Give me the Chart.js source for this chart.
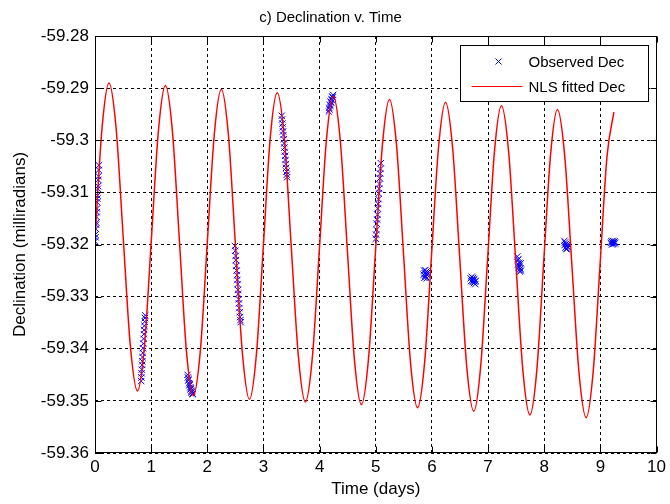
<!DOCTYPE html>
<html>
<head>
<meta charset="utf-8">
<script src="https://cdn.jsdelivr.net/npm/chart.js@4/dist/chart.umd.min.js"></script>
<style>
  html, body { margin: 0; padding: 0; background: #ffffff; }
  #wrap { width: 670px; height: 504px; }
</style>
</head>
<body>
<div id="wrap"><canvas id="c" width="670" height="504"></canvas></div>
<script>
// Observed declination, one block per night of observations (days, milliradians)
const obsDays = [
  // night 1
  0.002, 0.006, 0.010, 0.014, 0.018, 0.022, 0.026, 0.030, 0.034, 0.038, 0.042, 0.046, 0.050, 0.054, 0.058, 0.062, 0.066, 0.070,
  // night 2
  0.822, 0.826, 0.830, 0.834, 0.838, 0.842, 0.846, 0.850, 0.855, 0.860, 0.865, 0.870, 0.875, 0.880, 0.885, 0.890, 0.895,
  // night 3
  1.648, 1.655, 1.662, 1.668, 1.675, 1.682, 1.688, 1.695, 1.702, 1.708, 1.715, 1.722, 1.728, 1.735, 1.742,
  // night 4
  2.492, 2.498, 2.504, 2.510, 2.516, 2.522, 2.528, 2.534, 2.540, 2.546, 2.552, 2.558, 2.564, 2.570, 2.576, 2.582, 2.588, 2.594,
  // night 5
  3.325, 3.331, 3.337, 3.343, 3.349, 3.355, 3.361, 3.367, 3.373, 3.379, 3.385, 3.391, 3.397, 3.403, 3.409, 3.415, 3.420,
  // night 6
  4.165, 4.172, 4.178, 4.185, 4.192, 4.198, 4.205, 4.212, 4.218, 4.225, 4.232, 4.240,
  // night 7
  5.000, 5.006, 5.012, 5.018, 5.024, 5.030, 5.036, 5.042, 5.048, 5.054, 5.060, 5.066, 5.072, 5.078, 5.084, 5.090,
  // night 8
  5.852, 5.860, 5.866, 5.872, 5.878, 5.884, 5.890, 5.896, 5.902, 5.908, 5.914, 5.920,
  // night 9
  6.690, 6.700, 6.708, 6.716, 6.724, 6.732, 6.740, 6.748, 6.756, 6.764, 6.772, 6.780,
  // night 10
  7.520, 7.528, 7.532, 7.540, 7.545, 7.550, 7.556, 7.562, 7.568, 7.575, 7.580, 7.588,
  // night 11
  8.358, 8.365, 8.372, 8.378, 8.385, 8.392, 8.398, 8.405, 8.412, 8.420,
  // night 12
  9.185, 9.195, 9.205, 9.212, 9.220, 9.228, 9.236, 9.245, 9.255, 9.265
];
const obsDec = [
  -59.3194, -59.3181, -59.3186, -59.3170, -59.3162, -59.3158, -59.3147, -59.3138, -59.3131, -59.3119, -59.3112, -59.3106, -59.3093, -59.3088, -59.3076, -59.3069, -59.3057, -59.3048,
  -59.3462, -59.3455, -59.3447, -59.3440, -59.3431, -59.3424, -59.3416, -59.3408, -59.3399, -59.3390, -59.3381, -59.3372, -59.3364, -59.3356, -59.3348, -59.3341, -59.3336,
  -59.3450, -59.3455, -59.3461, -59.3458, -59.3466, -59.3470, -59.3468, -59.3474, -59.3478, -59.3476, -59.3481, -59.3484, -59.3482, -59.3486, -59.3487,
  -59.3203, -59.3212, -59.3222, -59.3230, -59.3241, -59.3250, -59.3259, -59.3268, -59.3276, -59.3287, -59.3295, -59.3305, -59.3313, -59.3322, -59.3330, -59.3339, -59.3345, -59.3349,
  -59.2953, -59.2960, -59.2968, -59.2975, -59.2983, -59.2990, -59.2998, -59.3006, -59.3014, -59.3022, -59.3030, -59.3038, -59.3046, -59.3053, -59.3060, -59.3066, -59.3071,
  -59.2945, -59.2938, -59.2941, -59.2932, -59.2934, -59.2926, -59.2928, -59.2921, -59.2923, -59.2916, -59.2918, -59.2913,
  -59.3189, -59.3181, -59.3172, -59.3160, -59.3152, -59.3143, -59.3131, -59.3122, -59.3113, -59.3102, -59.3093, -59.3084, -59.3073, -59.3064, -59.3055, -59.3044,
  -59.3258, -59.3250, -59.3264, -59.3255, -59.3260, -59.3249, -59.3262, -59.3256, -59.3252, -59.3265, -59.3258, -59.3254,
  -59.3265, -59.3270, -59.3262, -59.3268, -59.3272, -59.3264, -59.3269, -59.3274, -59.3266, -59.3271, -59.3276, -59.3270,
  -59.3223, -59.3230, -59.3238, -59.3228, -59.3244, -59.3235, -59.3249, -59.3241, -59.3252, -59.3246, -59.3236, -59.3250,
  -59.3193, -59.3201, -59.3196, -59.3206, -59.3199, -59.3209, -59.3203, -59.3208, -59.3200, -59.3205,
  -59.3197, -59.3194, -59.3200, -59.3196, -59.3193, -59.3199, -59.3195, -59.3198, -59.3194, -59.3197
];

// Nonlinear least-squares fitted declination (days, milliradians)
const fitDays = [
  0.000, 0.125, 0.249,
  0.376, 0.502, 0.629, 0.756,
  0.881, 1.005, 1.130, 1.254,
  1.378, 1.503, 1.627, 1.751,
  1.876, 2.000, 2.125, 2.250,
  2.375, 2.500, 2.626, 2.751,
  2.874, 2.998, 3.121, 3.245,
  3.371, 3.496, 3.622, 3.747,
  3.871, 3.996, 4.120, 4.244,
  4.369, 4.494, 4.619, 4.744,
  4.869, 4.994, 5.119, 5.244,
  5.369, 5.494, 5.619, 5.744,
  5.869, 5.993, 6.118, 6.242,
  6.368, 6.494, 6.619, 6.745,
  6.868, 6.992, 7.115, 7.238,
  7.365, 7.492, 7.618, 7.745,
  7.868, 7.990, 8.113, 8.235,
  8.363, 8.491, 8.619, 8.747,
  8.870, 8.994, 9.117, 9.240
];
const fitDec = [
  -59.3188, -59.2977, -59.2890,
  -59.2977, -59.3186, -59.3394, -59.3481,
  -59.3395, -59.3188, -59.2981, -59.2895,
  -59.2982, -59.3192, -59.3403, -59.3490,
  -59.3404, -59.3196, -59.2988, -59.2902,
  -59.2989, -59.3200, -59.3410, -59.3497,
  -59.3411, -59.3203, -59.2995, -59.2909,
  -59.2996, -59.3206, -59.3415, -59.3502,
  -59.3416, -59.3209, -59.3001, -59.2915,
  -59.3002, -59.3211, -59.3420, -59.3507,
  -59.3421, -59.3215, -59.3008, -59.2922,
  -59.3009, -59.3218, -59.3427, -59.3513,
  -59.3427, -59.3220, -59.3013, -59.2927,
  -59.3014, -59.3224, -59.3433, -59.3520,
  -59.3434, -59.3227, -59.3020, -59.2934,
  -59.3021, -59.3231, -59.3440, -59.3527,
  -59.3441, -59.3234, -59.3027, -59.2941,
  -59.3028, -59.3237, -59.3446, -59.3532,
  -59.3446, -59.3239, -59.3032, -59.2946
];

// Axis ticks
const xTickValues = [0, 1, 2, 3, 4, 5, 6, 7, 8, 9, 10];
const xTickLabels = ['0', '1', '2', '3', '4', '5', '6', '7', '8', '9', '10'];
const yTickValues = [-59.36, -59.35, -59.34, -59.33, -59.32, -59.31, -59.30, -59.29, -59.28];
const yTickLabels = ['-59.36', '-59.35', '-59.34', '-59.33', '-59.32', '-59.31', '-59.3', '-59.29', '-59.28'];

const FONT = '"Liberation Sans", Arial, Helvetica, sans-serif';
const axisFont = { family: FONT, size: 17 };
const legendFont = { family: FONT, size: 15 };
const OBS_COLOR = '#0000ff';
const FIT_COLOR = '#ff0000';

const observed = obsDays.map((d, i) => ({ x: d, y: obsDec[i] }));
const fitted = fitDays.map((d, i) => ({ x: d, y: fitDec[i] }));

// Axes box with inward tick marks on all four sides
const axesBox = {
  id: 'axesBox',
  afterDatasetsDraw(chart) {
    const { ctx, chartArea: a, scales: { x, y } } = chart;
    const L = Math.round(a.left) + 0.5, R = Math.round(a.right) - 0.5;
    const T = Math.round(a.top) + 0.5, B = Math.round(a.bottom) - 0.5;
    const len = 6;
    ctx.save();
    ctx.strokeStyle = '#000';
    ctx.lineWidth = 1;
    ctx.setLineDash([]);
    ctx.beginPath();
    xTickValues.forEach(v => {
      const px = Math.round(x.getPixelForValue(v)) + 0.5;
      ctx.moveTo(px, B); ctx.lineTo(px, B - len);
      ctx.moveTo(px, T); ctx.lineTo(px, T + len);
    });
    yTickValues.forEach(v => {
      const py = Math.round(y.getPixelForValue(v)) + 0.5;
      ctx.moveTo(L, py); ctx.lineTo(L + len, py);
      ctx.moveTo(R, py); ctx.lineTo(R - len, py);
    });
    ctx.stroke();
    ctx.strokeRect(L, T, R - L, B - T);
    ctx.restore();
  }
};

// Boxed legend in the upper right corner of the axes
const boxedLegend = {
  id: 'boxedLegend',
  afterDraw(chart) {
    const { ctx, chartArea: a } = chart;
    const bx = Math.round(a.right) - 196.5, by = Math.round(a.top) + 9.5;
    const bw = 188, bh = 56;
    ctx.save();
    ctx.fillStyle = '#ffffff';
    ctx.fillRect(bx, by, bw, bh);
    ctx.strokeStyle = '#000';
    ctx.lineWidth = 1;
    ctx.setLineDash([]);
    ctx.strokeRect(bx, by, bw, bh);
    // marker sample
    const mx = bx + 38, my = by + 16;
    ctx.strokeStyle = OBS_COLOR;
    ctx.beginPath();
    ctx.moveTo(mx - 3, my - 3); ctx.lineTo(mx + 3, my + 3);
    ctx.moveTo(mx + 3, my - 3); ctx.lineTo(mx - 3, my + 3);
    ctx.stroke();
    // line sample
    const ly = by + 41;
    ctx.strokeStyle = FIT_COLOR;
    ctx.beginPath();
    ctx.moveTo(bx + 11, ly); ctx.lineTo(bx + 62, ly);
    ctx.stroke();
    ctx.fillStyle = '#000';
    ctx.font = `${legendFont.size}px ${FONT}`;
    ctx.textBaseline = 'middle';
    ctx.textAlign = 'left';
    ctx.fillText('Observed Dec', bx + 68, my + 1);
    ctx.fillText('NLS fitted Dec', bx + 68, ly + 1);
    ctx.restore();
  }
};

new Chart(document.getElementById('c'), {
  type: 'scatter',
  data: {
    datasets: [
      {
        label: 'NLS fitted Dec',
        data: fitted,
        showLine: true,
        borderColor: FIT_COLOR,
        borderWidth: 1.5,
        pointRadius: 0,
        pointHoverRadius: 0,
        cubicInterpolationMode: 'monotone',
        order: 0
      },
      {
        label: 'Observed Dec',
        data: observed,
        showLine: false,
        pointStyle: 'crossRot',
        pointRadius: 4.5,
        pointHoverRadius: 4.5,
        borderColor: OBS_COLOR,
        backgroundColor: OBS_COLOR,
        pointBorderWidth: 1,
        borderWidth: 1,
        order: 1
      }
    ]
  },
  options: {
    responsive: false,
    animation: false,
    devicePixelRatio: 1,
    layout: { padding: { top: 0, right: 9, left: 0, bottom: 0 } },
    plugins: {
      legend: { display: false },
      tooltip: { enabled: false },
      title: {
        display: true,
        text: 'c) Declination v. Time',
        color: '#000',
        font: { family: FONT, size: 15, weight: 'normal' },
        padding: { top: 9, bottom: 9 }
      }
    },
    scales: {
      x: {
        type: 'linear',
        min: 0,
        max: 10,
        afterBuildTicks: s => { s.ticks = xTickValues.map(v => ({ value: v })); },
        afterFit: s => { s.height = 51; },
        ticks: {
          callback: (v, i) => xTickLabels[i],
          color: '#000',
          font: axisFont,
          padding: 4,
          maxRotation: 0,
          autoSkip: false
        },
        grid: { color: '#000', lineWidth: 1, drawTicks: false },
        border: { display: false, dash: [3, 3] },
        title: {
          display: true,
          text: 'Time (days)',
          color: '#000',
          font: axisFont,
          padding: { top: 0, bottom: 4 }
        }
      },
      y: {
        type: 'linear',
        min: -59.36,
        max: -59.28,
        afterBuildTicks: s => { s.ticks = yTickValues.map(v => ({ value: v })); },
        afterFit: s => { s.width = 95; },
        ticks: {
          callback: (v, i) => yTickLabels[i],
          color: '#000',
          font: axisFont,
          padding: 6,
          autoSkip: false
        },
        grid: { color: '#000', lineWidth: 1, drawTicks: false },
        border: { display: false, dash: [3, 3] },
        title: {
          display: true,
          text: 'Declination (milliradians)',
          color: '#000',
          font: axisFont,
          padding: { top: 10, bottom: 0 }
        }
      }
    }
  },
  plugins: [axesBox, boxedLegend]
});
</script>
</body>
</html>
